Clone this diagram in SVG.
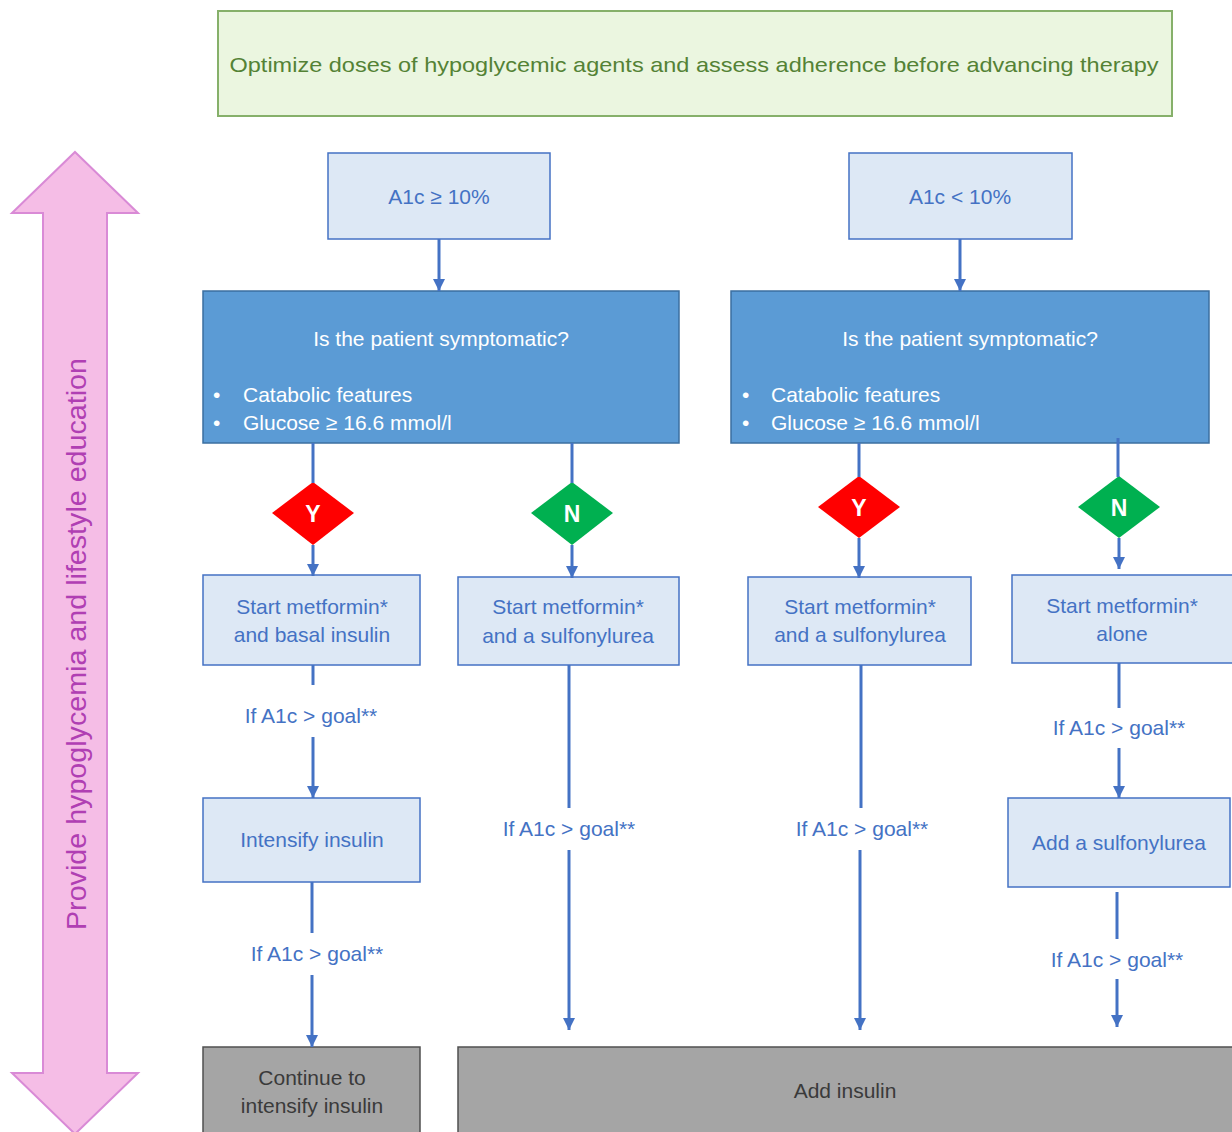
<svg xmlns="http://www.w3.org/2000/svg" width="1232" height="1132" viewBox="0 0 1232 1132">
<defs>
<marker id="ah" markerUnits="userSpaceOnUse" markerWidth="14" markerHeight="12" refX="12" refY="6" orient="auto">
<path d="M0,0 L12,6 L0,12 z" fill="#4472c4"/>
</marker>
<style>
text{font-family:"Liberation Sans",Arial,sans-serif}
.lt{fill:#dde8f5;stroke:#4472c4;stroke-width:1.5}
.lbl{fill:#4472c4;font-size:21px;text-anchor:middle}
.blue{fill:#5b9bd5;stroke:#3b6fa0;stroke-width:1.5}
.wt{fill:#ffffff;font-size:21px}
.gray{fill:#a5a5a5;stroke:#505050;stroke-width:1.5}
.gt{fill:#3a3a3a;font-size:21px;text-anchor:middle}
.dt{fill:#ffffff;font-size:23px;font-weight:bold;text-anchor:middle}
.c{stroke:#4472c4;stroke-width:3;fill:none}
.a{marker-end:url(#ah)}
</style>
</defs>
<rect width="1232" height="1132" fill="#ffffff"/>

<g id="banner">
<rect x="218" y="11" width="954" height="105" fill="#ebf6e0" stroke="#86b06a" stroke-width="2"/>
<text x="694" y="72" font-size="21" fill="#548235" text-anchor="middle" textLength="929" lengthAdjust="spacingAndGlyphs">Optimize doses of hypoglycemic agents and assess adherence before advancing therapy</text>
</g>

<g id="education-arrow">
<path d="M75,152 L138,213 L107,213 L107,1073 L138,1073 L75,1134 L12,1073 L43,1073 L43,213 L12,213 Z" fill="#f5bde6" stroke="#d98ad6" stroke-width="2"/>
<text x="86" y="644" font-size="27" fill="#b03fb3" text-anchor="middle" textLength="572" lengthAdjust="spacingAndGlyphs" transform="rotate(-90 86 644)">Provide hypoglycemia and lifestyle education</text>
</g>

<g id="a1c-high">
<rect class="lt" x="328" y="153" width="222" height="86"/>
<text class="lbl" x="439" y="204">A1c ≥ 10%</text>
</g>
<g id="a1c-low">
<rect class="lt" x="849" y="153" width="223" height="86"/>
<text class="lbl" x="960" y="204">A1c &lt; 10%</text>
</g>

<g id="symptomatic-left">
<rect class="blue" x="203" y="291" width="476" height="152"/>
<text class="wt" x="441" y="346" text-anchor="middle">Is the patient symptomatic?</text>
<text class="wt" x="213" y="402">•</text>
<text class="wt" x="243" y="402">Catabolic features</text>
<text class="wt" x="213" y="430">•</text>
<text class="wt" x="243" y="430">Glucose ≥ 16.6 mmol/l</text>
</g>
<g id="symptomatic-right">
<rect class="blue" x="731" y="291" width="478" height="152"/>
<text class="wt" x="970" y="346" text-anchor="middle">Is the patient symptomatic?</text>
<text class="wt" x="742" y="402">•</text>
<text class="wt" x="771" y="402">Catabolic features</text>
<text class="wt" x="742" y="430">•</text>
<text class="wt" x="771" y="430">Glucose ≥ 16.6 mmol/l</text>
</g>

<g id="y-left">
<polygon points="313,482 354,513 313,545 272,513" fill="#ff0000"/>
<text class="dt" x="313" y="522">Y</text>
</g>
<g id="n-left">
<polygon points="572,482 613,513 572,545 531,513" fill="#00b050"/>
<text class="dt" x="572" y="522">N</text>
</g>
<g id="y-right">
<polygon points="859,476 900,507 859,538 818,507" fill="#ff0000"/>
<text class="dt" x="859" y="516">Y</text>
</g>
<g id="n-right">
<polygon points="1119,476 1160,507 1119,538 1078,507" fill="#00b050"/>
<text class="dt" x="1119" y="516">N</text>
</g>

<g id="metformin-basal">
<rect class="lt" x="203" y="575" width="217" height="90"/>
<text class="lbl" x="312" y="614">Start metformin*</text>
<text class="lbl" x="312" y="642">and basal insulin</text>
</g>
<g id="metformin-su-left">
<rect class="lt" x="458" y="577" width="221" height="88"/>
<text class="lbl" x="568" y="614">Start metformin*</text>
<text class="lbl" x="568" y="643">and a sulfonylurea</text>
</g>
<g id="metformin-su-right">
<rect class="lt" x="748" y="577" width="223" height="88"/>
<text class="lbl" x="860" y="614">Start metformin*</text>
<text class="lbl" x="860" y="642">and a sulfonylurea</text>
</g>
<g id="metformin-alone">
<rect class="lt" x="1012" y="575" width="222" height="88"/>
<text class="lbl" x="1122" y="613">Start metformin*</text>
<text class="lbl" x="1122" y="641">alone</text>
</g>

<g id="intensify">
<rect class="lt" x="203" y="798" width="217" height="84"/>
<text class="lbl" x="312" y="847">Intensify insulin</text>
</g>
<g id="add-su">
<rect class="lt" x="1008" y="798" width="222" height="89"/>
<text class="lbl" x="1119" y="850">Add a sulfonylurea</text>
</g>

<g id="continue">
<rect class="gray" x="203" y="1047" width="217" height="90"/>
<text class="gt" x="312" y="1085">Continue to</text>
<text class="gt" x="312" y="1113">intensify insulin</text>
</g>
<g id="add-insulin">
<rect class="gray" x="458" y="1047" width="780" height="90"/>
<text class="gt" x="845" y="1098">Add insulin</text>
</g>

<g id="connectors">
<line class="c a" x1="439" y1="239" x2="439" y2="291"/>
<line class="c a" x1="960" y1="239" x2="960" y2="291"/>
<line class="c" x1="313" y1="443" x2="313" y2="483"/>
<line class="c a" x1="313" y1="545" x2="313" y2="576"/>
<line class="c" x1="572" y1="443" x2="572" y2="483"/>
<line class="c a" x1="572" y1="545" x2="572" y2="578"/>
<line class="c" x1="859" y1="443" x2="859" y2="477"/>
<line class="c a" x1="859" y1="538" x2="859" y2="578"/>
<line class="c" x1="1118" y1="438" x2="1118" y2="477"/>
<line class="c a" x1="1119" y1="538" x2="1119" y2="569"/>
<line class="c" x1="313" y1="665" x2="313" y2="685"/>
<line class="c a" x1="313" y1="737" x2="313" y2="798"/>
<line class="c" x1="312" y1="882" x2="312" y2="933"/>
<line class="c a" x1="312" y1="975" x2="312" y2="1047"/>
<line class="c" x1="569" y1="665" x2="569" y2="808"/>
<line class="c a" x1="569" y1="850" x2="569" y2="1030"/>
<line class="c" x1="861" y1="665" x2="861" y2="808"/>
<line class="c a" x1="860" y1="850" x2="860" y2="1030"/>
<line class="c" x1="1119" y1="663" x2="1119" y2="708"/>
<line class="c a" x1="1119" y1="748" x2="1119" y2="798"/>
<line class="c" x1="1117" y1="892" x2="1117" y2="939"/>
<line class="c a" x1="1117" y1="979" x2="1117" y2="1027"/>
<text class="lbl" x="311" y="723">If A1c &gt; goal**</text>
<text class="lbl" x="317" y="961">If A1c &gt; goal**</text>
<text class="lbl" x="569" y="836">If A1c &gt; goal**</text>
<text class="lbl" x="862" y="836">If A1c &gt; goal**</text>
<text class="lbl" x="1119" y="735">If A1c &gt; goal**</text>
<text class="lbl" x="1117" y="967">If A1c &gt; goal**</text>
</g>
</svg>
